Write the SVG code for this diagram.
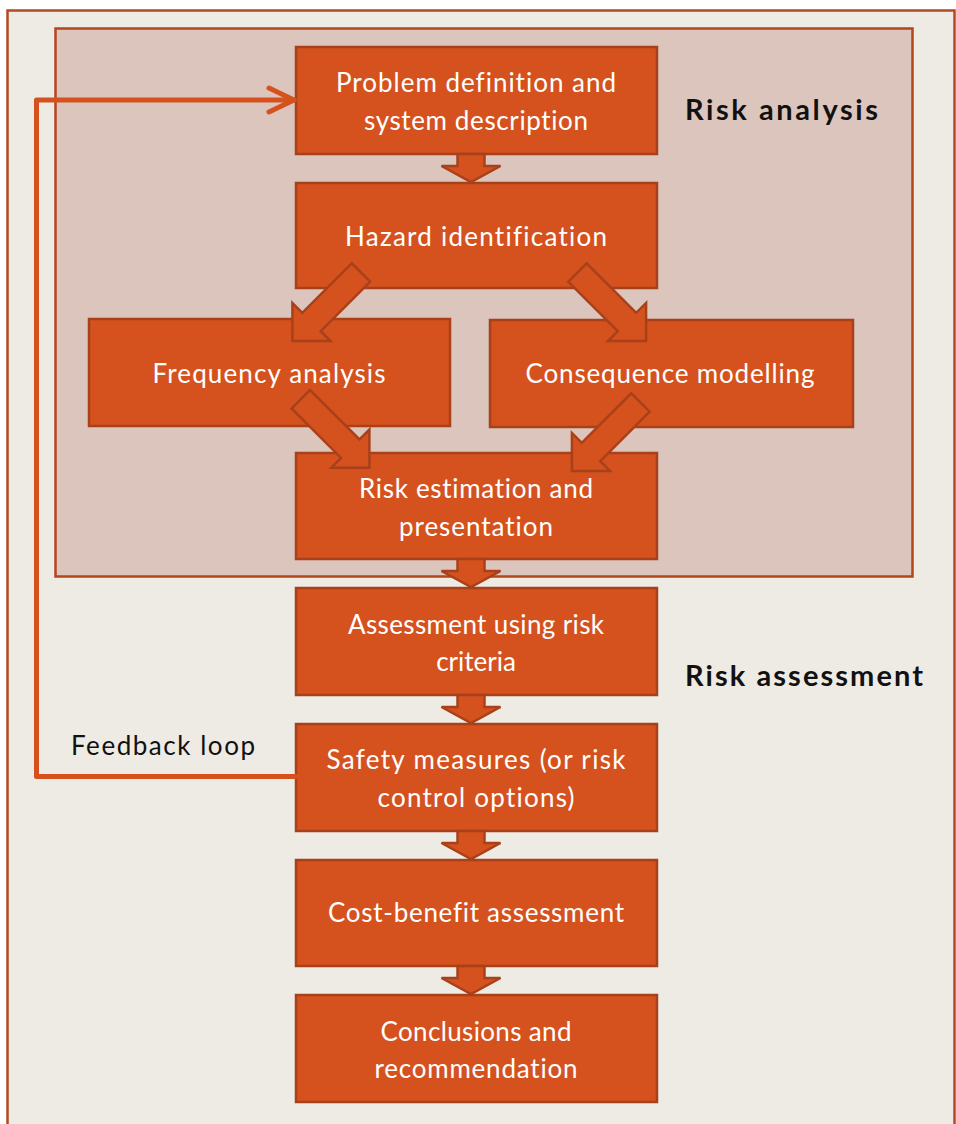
<svg xmlns="http://www.w3.org/2000/svg" width="956" height="1124" viewBox="0 0 956 1124">
  <style>
    .frame-outer { fill: #EEEBE5; stroke: #B04A22; stroke-width: 2.5; }
    .frame-inner { fill: #DCC5BD; stroke: #B4461C; stroke-width: 2.5; }
    .box { fill: #D5521E; stroke: #A8411A; stroke-width: 2.5; }
    .blk { fill: #D5521E; stroke: #A8411A; stroke-width: 2.5; stroke-linejoin: miter; }
    text { font-variant-ligatures: none; }
    .lbl { font-family: "Lato", "Liberation Sans", sans-serif; font-size: 26px; fill: #FFFFFF; text-anchor: middle; }
    .side { font-family: "Lato", "Liberation Sans", sans-serif; font-size: 29px; font-weight: bold; fill: #111111; }
    .note { font-family: "Lato", "Liberation Sans", sans-serif; font-size: 26px; fill: #111111; }
    .loop { fill: none; stroke: #D5521E; stroke-width: 5; stroke-linecap: round; stroke-linejoin: round; }
  </style>
  <defs>
    <!-- straight block arrow pointing down, tail at origin -->
    <path id="down" d="M -13.5 0 L 13.5 0 L 13.5 12 L 29.5 12 L 0 28 L -29.5 12 L -13.5 12 Z"/>
    <!-- diagonal block arrow pointing along +x, tail centre at origin -->
    <path id="diag" d="M 0 -13 L 70 -13 L 70 -27 L 97 0 L 70 27 L 70 13 L 0 13 Z"/>
  </defs>

  <rect class="frame-outer" x="7.5" y="10.5" width="947" height="1125"/>
  <rect id="risk-analysis-area" class="frame-inner" x="55.5" y="28.5" width="857" height="548"/>

  <text class="side" x="685" y="120" textLength="193">Risk analysis</text>
  <text class="side" x="685" y="686" textLength="238">Risk assessment</text>

  <g id="problem-definition">
    <rect class="box" x="296" y="47" width="361" height="107"/>
    <text class="lbl" x="476" y="92" textLength="280">Problem definition and</text>
    <text class="lbl" x="476" y="130" textLength="224">system description</text>
  </g>
  <g id="hazard-identification">
    <rect class="box" x="296" y="183" width="361" height="105"/>
    <text class="lbl" x="476" y="246" textLength="262">Hazard identification</text>
  </g>
  <g id="frequency-analysis">
    <rect class="box" x="89" y="319" width="361" height="107"/>
    <text class="lbl" x="269" y="383" textLength="233">Frequency analysis</text>
  </g>
  <g id="consequence-modelling">
    <rect class="box" x="490" y="320" width="363" height="107"/>
    <text class="lbl" x="670" y="383" textLength="289">Consequence modelling</text>
  </g>
  <g id="risk-estimation">
    <rect class="box" x="296" y="453" width="361" height="106"/>
    <text class="lbl" x="476" y="498" textLength="234">Risk estimation and</text>
    <text class="lbl" x="476" y="536" textLength="154">presentation</text>
  </g>
  <g id="assessment-criteria">
    <rect class="box" x="296" y="588" width="361" height="107"/>
    <text class="lbl" x="476" y="634" textLength="256">Assessment using risk</text>
    <text class="lbl" x="476" y="671">criteria</text>
  </g>
  <g id="safety-measures">
    <rect class="box" x="296" y="724" width="361" height="107"/>
    <text class="lbl" x="476" y="769" textLength="299">Safety measures (or risk</text>
    <text class="lbl" x="476" y="807" textLength="197">control options)</text>
  </g>
  <g id="cost-benefit">
    <rect class="box" x="296" y="860" width="361" height="106"/>
    <text class="lbl" x="476" y="922" textLength="296">Cost-benefit assessment</text>
  </g>
  <g id="conclusions">
    <rect class="box" x="296" y="995" width="361" height="107"/>
    <text class="lbl" x="476" y="1041" textLength="191">Conclusions and</text>
    <text class="lbl" x="476" y="1078" textLength="203">recommendation</text>
  </g>

  <g id="connectors">
    <use href="#down" class="blk" x="471" y="154"/>
    <use href="#down" class="blk" x="471" y="559"/>
    <use href="#down" class="blk" x="471" y="695"/>
    <use href="#down" class="blk" x="471" y="831"/>
    <use href="#down" class="blk" x="471" y="966"/>
    <use href="#diag" class="blk" transform="translate(361 272.5) rotate(135)"/>
    <use href="#diag" class="blk" transform="translate(577.5 272.5) rotate(45)"/>
    <use href="#diag" class="blk" transform="translate(300.8 399.2) rotate(45)"/>
    <use href="#diag" class="blk" transform="translate(640.5 402.5) rotate(135)"/>
    <!-- feedback loop back to the first step -->
    <path class="loop" d="M 296 776.5 L 36.5 776.5 L 36.5 100 L 294 100"/>
    <path class="loop" d="M 269 88 L 294 100 L 269 112"/>
  </g>
  <text class="note" x="71" y="755" textLength="184">Feedback loop</text>
</svg>
